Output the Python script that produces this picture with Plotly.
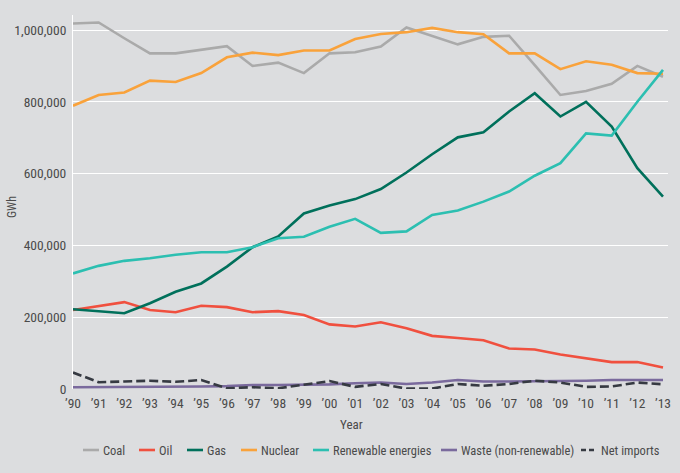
import plotly.graph_objects as go

# yearly electricity generation, GWh
years = list(range(1990, 2014))
year_labels = ["’" + str(y)[2:] for y in years]

coal = [1018000, 1021000, 977000, 935000, 935000, 946000, 955000, 900000,
        909000, 880000, 935000, 938000, 954000, 1007000, 983000, 960000,
        981000, 984000, 902000, 819000, 830000, 850000, 900000, 870000]
oil = [220000, 232000, 242000, 220000, 214000, 232000, 228000, 214000,
       217000, 206000, 180000, 174000, 186000, 169000, 148000, 142000,
       136000, 113000, 110000, 96000, 86000, 75000, 75000, 60000]
gas = [222000, 216000, 211000, 239000, 271000, 294000, 341000, 395000,
       425000, 489000, 511000, 529000, 557000, 603000, 654000, 701000,
       715000, 773000, 824000, 759000, 800000, 731000, 615000, 536000]
nuclear = [789000, 819000, 826000, 859000, 855000, 880000, 924000, 937000,
           930000, 943000, 943000, 975000, 989000, 994000, 1006000, 994000,
           988000, 935000, 935000, 891000, 913000, 903000, 880000, 878000]
renewable = [322000, 343000, 357000, 364000, 374000, 381000, 381000, 395000,
             420000, 424000, 452000, 474000, 435000, 439000, 485000, 497000,
             522000, 550000, 594000, 629000, 712000, 706000, 800000, 889000]
waste = [5000, 5000, 5000, 6000, 7000, 7000, 8000, 11000,
         11000, 11000, 13000, 16000, 18000, 14000, 18000, 25000,
         21000, 21000, 21000, 21000, 23000, 25000, 25000, 25000]
net_imports = [46000, 19000, 21000, 23000, 20000, 25000, 2000, 5000,
               2000, 12000, 22000, 6000, 14000, 1000, 1000, 14000,
               9000, 14000, 23000, 18000, 6000, 7000, 18000, 13000]

y_ticks = [0, 200000, 400000, 600000, 800000, 1000000]

names = ["Coal", "Oil", "Gas", "Nuclear", "Renewable energies",
         "Waste (non-renewable)", "Net imports"]
values = [coal, oil, gas, nuclear, renewable, waste, net_imports]
colors = ["#aaaaaa", "#f0503f", "#00705b", "#f9a23b", "#2cbfb1",
          "#7a6a9d", "#363a42"]
dashes = ["solid"] * 6 + ["9px,4px"]

font_family = "Roboto Condensed, Roboto, Liberation Sans, sans-serif"
text_color = "#4a4a4a"
bg = "#dcdddf"

# pixel geometry of the plot area (680x473 page)
L, R, T, B = 73, 668, 15, 389
W, H = R - L, B - T


def px(x):
    return (x - L) / W


def py(y):
    return (B - y) / H


fig = go.Figure()
for name, vals, color, dash in zip(names, values, colors, dashes):
    fig.add_trace(go.Scatter(
        x=years, y=vals, name=name, mode="lines",
        line=dict(color=color, width=2.6, dash=dash),
    ))

# hand-built legend row with short keys, like the original
legend_key_x = [83, 139, 187, 241, 313, 441, 581]
legend_y = 450
shapes = []
annotations = []
for x0, name, color, dash in zip(legend_key_x, names, colors, dashes):
    shapes.append(dict(
        type="line", xref="paper", yref="paper",
        x0=px(x0), x1=px(x0 + 16), y0=py(legend_y), y1=py(legend_y),
        line=dict(color=color, width=2.6,
                  dash="solid" if dash == "solid" else "5px,3px"),
    ))
    annotations.append(dict(
        text=name, xref="paper", yref="paper", x=px(x0 + 18), y=py(legend_y),
        xanchor="left", yanchor="middle", showarrow=False,
        font=dict(size=12.5, color=text_color),
    ))

annotations.append(dict(
    text="Year", xref="paper", yref="paper", x=px(351), y=py(424),
    xanchor="center", yanchor="middle", showarrow=False,
    font=dict(size=13, color=text_color),
))
annotations.append(dict(
    text="GWh", xref="paper", yref="paper", x=px(12), y=py(207),
    xanchor="center", yanchor="middle", showarrow=False, textangle=-90,
    font=dict(size=12, color=text_color),
))

fig.update_layout(
    width=680, height=473,
    paper_bgcolor=bg, plot_bgcolor=bg,
    margin=dict(l=L, r=680 - R, t=T, b=473 - B),
    font=dict(family=font_family, size=13, color=text_color),
    showlegend=False,
    xaxis=dict(
        range=[1990, 2013.195], tickvals=years, ticktext=year_labels,
        showgrid=False, zeroline=False, showline=False,
        ticks="", ticklabelstandoff=4, tickfont=dict(size=13.5),
        automargin=False,
    ),
    yaxis=dict(
        range=[0, 1041800], tickvals=y_ticks, tickformat=",",
        showgrid=True, gridcolor="#ffffff", gridwidth=1,
        zeroline=False, showline=True, linecolor="#ffffff", linewidth=1,
        ticks="", ticklabelstandoff=3, tickfont=dict(size=13.5),
        automargin=False,
    ),
    shapes=shapes,
    annotations=annotations,
)

# drop the browser's default page margin so the figure sits at 0,0
fig.write_html(
    "out.html",
    config={"displayModeBar": False},
    post_script="document.body.style.margin='0';"
                "document.body.style.background='%s';" % bg,
)
